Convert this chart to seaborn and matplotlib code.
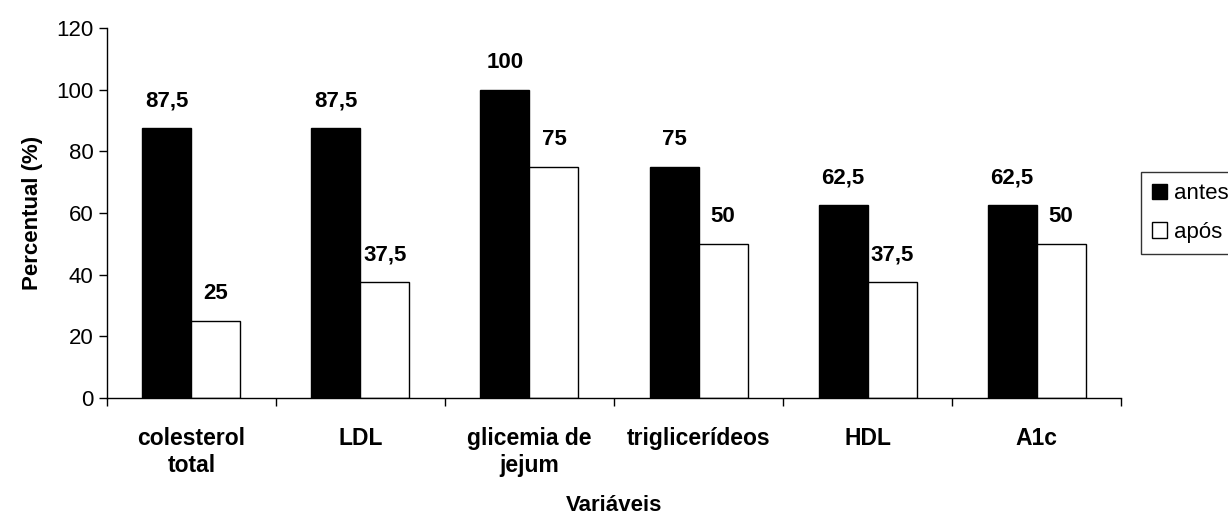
import pandas as pd
import numpy as np
import matplotlib
matplotlib.use("Agg")
import matplotlib.pyplot as plt
import seaborn as sns
from matplotlib.patches import Patch

# data
variaveis = ["colesterol\ntotal", "LDL", "glicemia de\njejum", "triglicerídeos", "HDL", "A1c"]
antes = [87.5, 87.5, 100, 75, 62.5, 62.5]
apos = [25, 37.5, 75, 50, 37.5, 50]
grupos = ["antes", "após"]

df = pd.DataFrame({
    "Variáveis": variaveis * 2,
    "valor": antes + apos,
    "grupo": ["antes"] * len(antes) + ["após"] * len(apos),
})

sns.set_style("white")
plt.rcParams["font.family"] = ["Liberation Sans", "DejaVu Sans"]
plt.rcParams["text.color"] = "black"
plt.rcParams["axes.labelcolor"] = "black"
plt.rcParams["xtick.color"] = "black"
plt.rcParams["ytick.color"] = "black"

fig = plt.figure(figsize=(12.28, 5.18), dpi=100)
ax = fig.add_axes([0.087, 0.232, 0.826, 0.714])

sns.barplot(data=df, x="Variáveis", y="valor", hue="grupo", hue_order=grupos,
            palette=["black", "white"], edgecolor="black", linewidth=1,
            width=0.58, ax=ax, legend=False)

def fmt(v):
    return ("%g" % v).replace(".", ",")

for cont, vals in zip(ax.containers, [antes, apos]):
    ax.bar_label(cont, labels=[fmt(v) for v in vals], padding=12,
                 fontsize=16, fontweight="bold")

ax.set_ylim(0, 120)
ax.set_yticks(range(0, 121, 20))
ax.set_xlim(-0.5, len(variaveis) - 0.5)
ax.set_xticks(np.arange(len(variaveis)))
ax.set_xticklabels(variaveis, fontsize=16.5, fontweight="bold", linespacing=1.2)
ax.tick_params(axis="x", length=0, pad=21)
ax.set_xticks(np.arange(-0.5, len(variaveis)), minor=True)
ax.tick_params(axis="x", which="minor", length=6, width=1, color="black", direction="out", bottom=True)
ax.tick_params(axis="y", labelsize=16, length=6, width=1, color="black", direction="out", left=True)

for s in ["top", "right"]:
    ax.spines[s].set_visible(False)
for s in ["left", "bottom"]:
    ax.spines[s].set_color("black")
    ax.spines[s].set_linewidth(1)

ax.set_ylabel("Percentual (%)", fontsize=16, fontweight="bold", labelpad=10)
ax.set_xlabel("Variáveis", fontsize=16, fontweight="bold", labelpad=13)

handles = [Patch(facecolor="black", edgecolor="black"),
           Patch(facecolor="white", edgecolor="black")]
leg = fig.legend(handles, grupos, loc="upper left", bbox_to_anchor=(0.929, 0.668),
                 fontsize=16, frameon=True, fancybox=False, edgecolor="black",
                 handlelength=0.7, handleheight=0.7, handletextpad=0.3,
                 borderpad=0.5, labelspacing=0.8, borderaxespad=0)
leg.get_frame().set_linewidth(1)

plt.savefig("out.png", dpi=100)
